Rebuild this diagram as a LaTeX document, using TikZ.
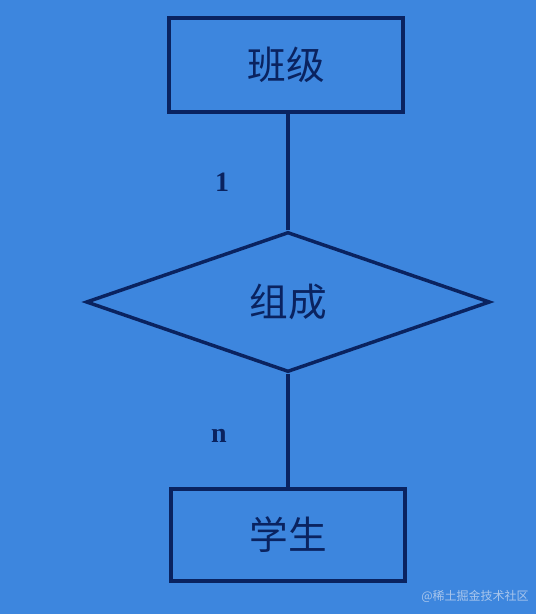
\documentclass[tikz,border=0pt]{standalone}
\usepackage{fontspec}
\setmainfont{Liberation Serif}
\newfontfamily\cjk{Noto Sans CJK SC}
\usetikzlibrary{shapes.geometric}
\definecolor{bg}{HTML}{3D86DE}
\definecolor{ink}{HTML}{0A2360}
\definecolor{wm}{HTML}{A9C6EC}
\tikzset{
  entity/.style={draw=ink, line width=3pt, minimum width=176pt, minimum height=71pt, inner sep=0pt, text=ink, font=\cjk\fontsize{29}{30}\selectfont},
  rel/.style={draw=ink, line width=2.6pt, diamond, aspect=2.88, minimum width=300pt, minimum height=105pt, inner sep=0pt, text=ink, font=\cjk\fontsize{29}{30}\selectfont},
  conn/.style={draw=ink, line width=3pt},
  card/.style={text=ink, font=\bfseries\fontsize{21}{22}\selectfont},
}
\begin{document}
\begin{tikzpicture}[x=0.75pt,y=-0.75pt]
\fill[bg] (0,0) rectangle (536,614);
\useasboundingbox (0,0) rectangle (536,614);
\node[entity] (cls) at (286,65) {班级};
\node[rel, minimum width=303pt, minimum height=105pt] (rel) at (288,302) {组成};
\node[entity, minimum height=69pt] (stu) at (288,535) {学生};
\draw[conn] (rel.north) -- (rel.north |- cls.south);
\draw[conn] (rel.south) -- (stu.north);
\node[card] (one) at (222,182) {1};
\node[card] (nn) at (219,436) {n};
\node[text=wm, font=\cjk\fontsize{9}{10}\selectfont] (wmk) at (475,596) {@稀土掘金技术社区};
\end{tikzpicture}
\end{document}
